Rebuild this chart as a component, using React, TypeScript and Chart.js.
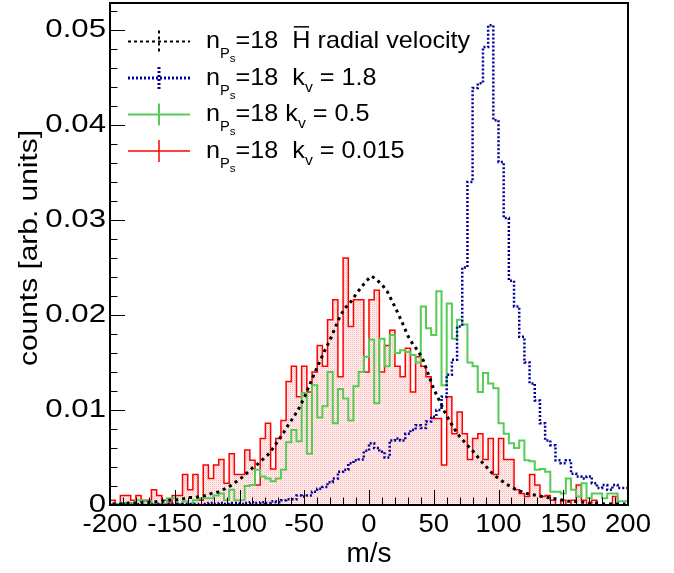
import React, { useEffect, useRef } from "react";
import { Chart, registerables } from "chart.js";

Chart.register(...registerables);

// ---------- data ----------
// 100 bins of 4 m/s from -200 to 200
const binEdges: number[] = Array.from({ length: 101 }, (_, i) => -200 + 4 * i);

// black: H-bar radial velocity
const hRadial: number[] = [
  0.0001, 0.0001, 0.0001, 0.0002, 0.0002, 0.0002, 0.0003, 0.0003, 0.0003, 0.0004,
  0.0004, 0.0005, 0.0005, 0.0006, 0.0007, 0.0008, 0.0008, 0.0009, 0.0010, 0.0012,
  0.0013, 0.0015, 0.0018, 0.0021, 0.0025, 0.0029, 0.0034, 0.0039, 0.0043, 0.0048,
  0.0053, 0.0060, 0.0068, 0.0076, 0.0085, 0.0093, 0.0102, 0.0113, 0.0126, 0.0139,
  0.0151, 0.0163, 0.0174, 0.0187, 0.0200, 0.0208, 0.0214, 0.0222, 0.0229, 0.0236,
  0.0241, 0.0237, 0.0232, 0.0225, 0.0214, 0.0203, 0.0191, 0.0178, 0.0169, 0.0162,
  0.0152, 0.0137, 0.0122, 0.0111, 0.0099, 0.0089, 0.0080, 0.0072, 0.0066, 0.0060,
  0.0054, 0.0047, 0.0041, 0.0035, 0.0030, 0.0026, 0.0022, 0.0019, 0.0016, 0.0014,
  0.0012, 0.0011, 0.0010, 0.0009, 0.0008, 0.0007, 0.0006, 0.0005, 0.0004, 0.0004,
  0.0003, 0.0003, 0.0002, 0.0002, 0.0002, 0.0001, 0.0001, 0.0001, 0.0001, 0.0001,
];

// blue: k_v = 1.8
const kv18: number[] = [
  0.0000, 0.0001, 0.0000, 0.0001, 0.0000, 0.0000, 0.0001, 0.0000, 0.0001, 0.0000,
  0.0001, 0.0000, 0.0001, 0.0001, 0.0000, 0.0001, 0.0001, 0.0001, 0.0000, 0.0001,
  0.0002, 0.0001, 0.0002, 0.0001, 0.0002, 0.0002, 0.0001, 0.0002, 0.0003, 0.0002,
  0.0003, 0.0002, 0.0004, 0.0003, 0.0005, 0.0006, 0.0006, 0.0010, 0.0009, 0.0010,
  0.0014, 0.0017, 0.0019, 0.0024, 0.0028, 0.0035, 0.0037, 0.0044, 0.0047, 0.0048,
  0.0057, 0.0065, 0.0060, 0.0056, 0.0050, 0.0068, 0.0070, 0.0068, 0.0075, 0.0079,
  0.0084, 0.0081, 0.0088, 0.0093, 0.0100, 0.0114, 0.0137, 0.0153, 0.0188, 0.0250,
  0.0340, 0.0439, 0.0444, 0.0482, 0.0505, 0.0405, 0.0361, 0.0302, 0.0236, 0.0209,
  0.0177, 0.0150, 0.0128, 0.0110, 0.0086, 0.0068, 0.0063, 0.0047, 0.0044, 0.0047,
  0.0033, 0.0030, 0.0028, 0.0030, 0.0023, 0.0018, 0.0021, 0.0016, 0.0021, 0.0018,
];

// green: k_v = 0.5
const kv05: number[] = [
  0.0001, 0.0001, 0.0001, 0.0002, 0.0002, 0.0002, 0.0005, 0.0004, 0.0004, 0.0001,
  0.0001, 0.0001, 0.0007, 0.0007, 0.0001, 0.0004, 0.0001, 0.0005, 0.0007, 0.0007,
  0.0007, 0.0010, 0.0012, 0.0005, 0.0016, 0.0005, 0.0005, 0.0020, 0.0021, 0.0037,
  0.0030, 0.0028, 0.0025, 0.0028, 0.0037, 0.0066, 0.0079, 0.0067, 0.0118, 0.0054,
  0.0126, 0.0092, 0.0104, 0.0140, 0.0086, 0.0122, 0.0112, 0.0089, 0.0125, 0.0140,
  0.0156, 0.0174, 0.0107, 0.0175, 0.0146, 0.0179, 0.0160, 0.0163, 0.0161, 0.0158,
  0.0150, 0.0209, 0.0186, 0.0179, 0.0225, 0.0126, 0.0212, 0.0175, 0.0195, 0.0190,
  0.0150, 0.0146, 0.0119, 0.0139, 0.0128, 0.0123, 0.0086, 0.0075, 0.0065, 0.0060,
  0.0068, 0.0047, 0.0046, 0.0037, 0.0038, 0.0035, 0.0014, 0.0014, 0.0012, 0.0028,
  0.0016, 0.0009, 0.0023, 0.0007, 0.0012, 0.0012, 0.0007, 0.0012, 0.0012, 0.0004,
];

// red: k_v = 0.015
const kv0015: number[] = [
  0.0005, 0.0005, 0.0000, 0.0010, 0.0010, 0.0005, 0.0010, 0.0005, 0.0005, 0.0016,
  0.0010, 0.0005, 0.0002, 0.0010, 0.0010, 0.0032, 0.0016, 0.0032, 0.0005, 0.0042,
  0.0028, 0.0042, 0.0048, 0.0023, 0.0054, 0.0032, 0.0032, 0.0058, 0.0047, 0.0021,
  0.0070, 0.0086, 0.0038, 0.0070, 0.0089, 0.0130, 0.0146, 0.0114, 0.0146, 0.0119,
  0.0140, 0.0168, 0.0146, 0.0195, 0.0216, 0.0135, 0.0260, 0.0188, 0.0216, 0.0216,
  0.0140, 0.0216, 0.0226, 0.0140, 0.0168, 0.0184, 0.0146, 0.0135, 0.0165, 0.0119,
  0.0156, 0.0146, 0.0135, 0.0091, 0.0091, 0.0042, 0.0114, 0.0075, 0.0098, 0.0075,
  0.0048, 0.0070, 0.0075, 0.0048, 0.0070, 0.0032, 0.0070, 0.0048, 0.0048, 0.0016,
  0.0012, 0.0009, 0.0032, 0.0021, 0.0009, 0.0010, 0.0005, 0.0000, 0.0005, 0.0000,
  0.0005, 0.0021, 0.0005, 0.0000, 0.0005, 0.0000, 0.0000, 0.0000, 0.0009, 0.0000,
];

const xTickValues: number[] = [-200, -150, -100, -50, 0, 50, 100, 150, 200];
const xTickLabels: string[] = ["-200", "-150", "-100", "-50", "0", "50", "100", "150", "200"];
const yTickValues: number[] = [0, 0.01, 0.02, 0.03, 0.04, 0.05];
const yTickLabels: string[] = ["0", "0.01", "0.02", "0.03", "0.04", "0.05"];
const xTitle = "m/s";
const yTitle = "counts [arb. units]";
const Y_MAX = 0.05284;

// ---------- helpers ----------
const FONT = '"Liberation Sans", Arial, Helvetica, sans-serif';

const stepPoints = (vals: number[]) => {
  const pts = vals.map((v, i) => ({ x: binEdges[i], y: v }));
  pts.push({ x: binEdges[vals.length], y: vals[vals.length - 1] });
  return pts;
};
const centerPoints = (vals: number[]) =>
  vals.map((v, i) => ({ x: (binEdges[i] + binEdges[i + 1]) / 2, y: v }));

function drawText(
  ctx: CanvasRenderingContext2D,
  text: string,
  x: number,
  y: number,
  size: number,
  align: CanvasTextAlign,
  baseline: CanvasTextBaseline,
  sx: number,
  rotate = false
) {
  ctx.save();
  ctx.translate(x, y);
  if (rotate) ctx.rotate(-Math.PI / 2);
  ctx.scale(sx, 1);
  ctx.font = `${size}px ${FONT}`;
  ctx.textAlign = align;
  ctx.textBaseline = baseline;
  ctx.fillStyle = "#000";
  ctx.fillText(text, 0, 0);
  ctx.restore();
}

type Seg = { t: string; size: number; dy?: number; over?: boolean };

function drawRich(ctx: CanvasRenderingContext2D, x: number, baseline: number, segs: Seg[], sx: number) {
  let cx = x;
  for (const s of segs) {
    ctx.save();
    ctx.font = `${s.size}px ${FONT}`;
    const w = ctx.measureText(s.t).width * sx;
    ctx.translate(cx, baseline + (s.dy || 0));
    ctx.scale(sx, 1);
    ctx.textAlign = "left";
    ctx.textBaseline = "alphabetic";
    ctx.fillStyle = "#000";
    ctx.fillText(s.t, 0, 0);
    ctx.restore();
    if (s.over) {
      ctx.save();
      ctx.strokeStyle = "#000";
      ctx.lineWidth = 1.5;
      ctx.setLineDash([]);
      const oy = baseline - s.size * 0.716 - 4;
      ctx.beginPath();
      ctx.moveTo(cx + 1.5, oy);
      ctx.lineTo(cx + w - 1.5, oy);
      ctx.stroke();
      ctx.restore();
    }
    cx += w;
  }
}

const nPs: Seg[] = [
  { t: "n", size: 24 },
  { t: "P", size: 14, dy: 10 },
  { t: "s", size: 11, dy: 14 },
  { t: "=18", size: 24 },
];

const legendItems: { color: string; width: number; dash: number[]; segs: Seg[] }[] = [
  {
    color: "#000000",
    width: 2,
    dash: [3, 3],
    segs: [...nPs, { t: "  ", size: 24 }, { t: "H", size: 24, over: true }, { t: " radial velocity", size: 24 }],
  },
  {
    color: "#000099",
    width: 3,
    dash: [2, 2],
    segs: [...nPs, { t: "  k", size: 24 }, { t: "v", size: 15, dy: 7 }, { t: " = 1.8", size: 24 }],
  },
  {
    color: "#55cc55",
    width: 2,
    dash: [],
    segs: [...nPs, { t: " k", size: 24 }, { t: "v", size: 15, dy: 7 }, { t: " = 0.5", size: 24 }],
  },
  {
    color: "#ff0000",
    width: 1.5,
    dash: [],
    segs: [...nPs, { t: "  k", size: 24 }, { t: "v", size: 15, dy: 7 }, { t: " = 0.015", size: 24 }],
  },
];

const rootStyle = {
  id: "rootStyle",
  afterDraw(chart: any) {
    const ctx: CanvasRenderingContext2D = chart.ctx;
    const xs = chart.scales.x;
    const ys = chart.scales.y;
    const { left, right, top, bottom } = chart.chartArea;
    ctx.save();
    ctx.strokeStyle = "#000";
    ctx.lineWidth = 1;
    ctx.setLineDash([]);
    // y ticks (inside)
    for (let k = 0; k <= 30; k++) {
      const v = k * 0.002;
      if (v > Y_MAX) break;
      const py = Math.round(ys.getPixelForValue(v)) + 0.5;
      const len = k % 5 === 0 ? 15 : 7.5;
      ctx.beginPath();
      ctx.moveTo(left, py);
      ctx.lineTo(left + len, py);
      ctx.stroke();
    }
    // x ticks (inside)
    for (let k = 0; k <= 40; k++) {
      const v = -200 + k * 10;
      const px = Math.round(xs.getPixelForValue(v)) + 0.5;
      const len = k % 5 === 0 ? 15 : 7.5;
      ctx.beginPath();
      ctx.moveTo(px, bottom);
      ctx.lineTo(px, bottom - len);
      ctx.stroke();
    }
    // frame
    ctx.lineWidth = 2;
    ctx.strokeRect(left, top, right - left, bottom - top);

    // tick labels
    yTickValues.forEach((v, i) => {
      drawText(ctx, yTickLabels[i], left - 4, ys.getPixelForValue(v), 26, "right", "middle", 1.2);
    });
    xTickValues.forEach((v, i) => {
      drawText(ctx, xTickLabels[i], xs.getPixelForValue(v), bottom + 20, 25, "center", "middle", 1.1);
    });
    // axis titles
    drawText(ctx, xTitle, (left + right) / 2, 562, 28, "center", "alphabetic", 1.0);
    drawText(ctx, yTitle, 37, 248, 26, "center", "alphabetic", 1.15, true);

    // legend
    const lx0 = 128, lx1 = 190, lxc = 159;
    legendItems.forEach((it, i) => {
      const ly = 41.5 + i * 36.5;
      ctx.save();
      ctx.strokeStyle = it.color;
      ctx.lineWidth = it.width;
      ctx.setLineDash(it.dash);
      ctx.beginPath();
      ctx.moveTo(lx0, ly);
      ctx.lineTo(lx1, ly);
      ctx.stroke();
      ctx.beginPath();
      ctx.moveTo(lxc, ly - 11);
      ctx.lineTo(lxc, ly + 11);
      ctx.stroke();
      ctx.restore();
      drawRich(ctx, 206, ly + 6.5, it.segs, 1.05);
    });
    ctx.restore();
  },
};

export default function App() {
  const ref = useRef<HTMLCanvasElement | null>(null);
  useEffect(() => {
    document.body.style.margin = "0";
    const canvas = ref.current;
    if (!canvas) return;
    const pc = document.createElement("canvas");
    pc.width = 2;
    pc.height = 2;
    const pctx = pc.getContext("2d")!;
    pctx.fillStyle = "rgba(255,220,220,0.3)";
    pctx.fillRect(0, 0, 2, 2);
    pctx.clearRect(0, 0, 1, 1);
    pctx.clearRect(1, 1, 1, 1);
    pctx.fillStyle = "rgba(255,90,90,0.45)";
    pctx.fillRect(0, 0, 1, 1);
    pctx.fillStyle = "rgba(255,150,150,0.35)";
    pctx.fillRect(1, 1, 1, 1);
    const ctx = canvas.getContext("2d")!;
    const pattern = ctx.createPattern(pc, "repeat");

    const chart = new Chart(canvas, {
      type: "line",
      data: {
        datasets: [
          {
            label: "H radial velocity",
            data: centerPoints(hRadial),
            borderColor: "#000000",
            borderWidth: 3,
            borderDash: [3, 4],
            pointRadius: 0,
            fill: false,
            tension: 0,
          },
          {
            label: "k_v = 1.8",
            data: stepPoints(kv18),
            stepped: "after",
            borderColor: "#000099",
            borderWidth: 2.5,
            borderDash: [2, 2],
            pointRadius: 0,
            fill: false,
          },
          {
            label: "k_v = 0.5",
            data: stepPoints(kv05),
            stepped: "after",
            borderColor: "#55cc55",
            borderWidth: 2,
            pointRadius: 0,
            fill: false,
          },
          {
            label: "k_v = 0.015",
            data: stepPoints(kv0015),
            stepped: "after",
            borderColor: "#ff0000",
            borderWidth: 1.5,
            pointRadius: 0,
            fill: "origin",
            backgroundColor: pattern as any,
          },
        ],
      },
      options: {
        animation: false,
        responsive: false,
        devicePixelRatio: 1,
        parsing: false as any,
        layout: { padding: { left: 110, right: 46, top: 3, bottom: 68 } },
        plugins: { legend: { display: false }, tooltip: { enabled: false } },
        scales: {
          x: {
            type: "linear",
            min: -200,
            max: 200,
            ticks: { display: false },
            grid: { display: false, drawTicks: false },
            border: { display: false },
            afterFit: (s: any) => {
              s.height = 0;
            },
          },
          y: {
            type: "linear",
            min: 0,
            max: Y_MAX,
            ticks: { display: false },
            grid: { display: false, drawTicks: false },
            border: { display: false },
            afterFit: (s: any) => {
              s.width = 0;
            },
          },
        },
      },
      plugins: [rootStyle],
    });
    return () => chart.destroy();
  }, []);
  return (
    <div style={{ width: 674, height: 573 }}>
      <canvas ref={ref} width={674} height={573} style={{ display: "block" }} />
    </div>
  );
}
